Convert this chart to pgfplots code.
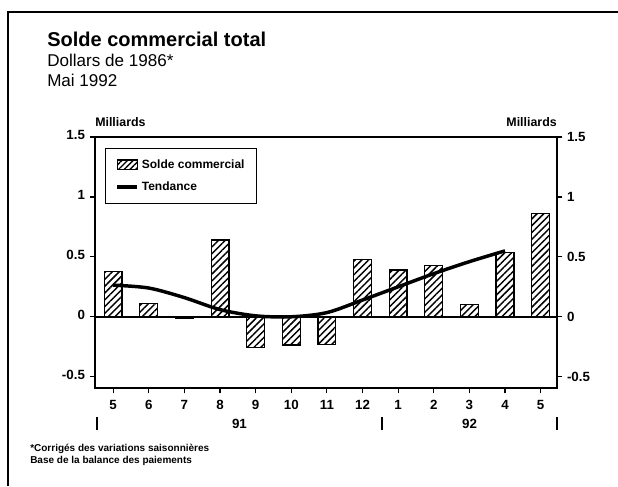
\documentclass[border=0pt]{standalone}
\usepackage{fontspec}
\setmainfont{Liberation Sans}
\usepackage{pgfplots}
\pgfplotsset{compat=1.18}
\usetikzlibrary{patterns,patterns.meta}
\begin{document}
\begin{tikzpicture}[x=0.75pt,y=0.75pt]
\useasboundingbox (0,0) rectangle (618,486);
\draw[line width=1.1pt] (8,0) -- (8,474) -- (618,474);
\node[anchor=base west, font=\bfseries\fontsize{15}{18}\selectfont, inner sep=0] at (47,439) {Solde commercial total};
\node[anchor=base west, font=\fontsize{12.8}{14}\selectfont, inner sep=0] at (47,419) {Dollars de 1986*};
\node[anchor=base west, font=\fontsize{12.8}{14}\selectfont, inner sep=0] at (47,399) {Mai 1992};
\node[anchor=base west, font=\bfseries\fontsize{9.3}{10}\selectfont, inner sep=0] at (95,359) {Milliards};
\node[anchor=base east, font=\bfseries\fontsize{9.3}{10}\selectfont, inner sep=0] at (557,359) {Milliards};
\begin{axis}[
  at={(71.25pt,73.5pt)}, anchor=south west, scale only axis,
  width=346.5pt, height=188.25pt,
  xmin=-0.51, xmax=12.46, ymin=-0.594, ymax=1.5,
  axis line style={line width=1.1pt},
  tick style={line width=0.9pt, black},
  tick align=outside, major tick length=4pt,
  xtick={0,...,12},
  xticklabels={5,6,7,8,9,10,11,12,1,2,3,4,5},
  xtick pos=left, ytick pos=left,
  ytick={-0.5,0,0.5,1,1.5},
  yticklabels={-0.5,0,0.5,1,1.5},
  ticklabel style={font=\bfseries\fontsize{10}{11}\selectfont},
  typeset ticklabels with strut,
  xticklabel style={yshift=-1pt},
  legend style={at={(0.022,0.956)}, anchor=north west, draw=black, line width=1pt,
    font=\bfseries\fontsize{9}{10}\selectfont, inner xsep=7pt, inner ysep=6pt,
    row sep=5pt, legend cell align=left},
  legend cell align=left,
]
\addplot[ybar, bar width=0.5, draw=black, line width=0.9pt,
  pattern={Lines[angle=45, distance=3.6pt, line width=1.1pt]},
  legend image code/.code={\draw[pattern={Lines[angle=45, distance=3pt, line width=1pt]}, draw=black, line width=0.9pt] (0pt,-3.5pt) rectangle (15pt,3.5pt);}]
coordinates {(0,0.375) (1,0.108) (2,-0.012) (3,0.64) (4,-0.258) (5,-0.236) (6,-0.228)
 (7,0.48) (8,0.39) (9,0.425) (10,0.10) (11,0.535) (12,0.865)};
\addlegendentry{Solde commercial}
\addplot[black, line width=2.6pt, smooth, no markers,
  legend image code/.code={\draw[black, line width=3pt] (0pt,0pt) -- (15pt,0pt);}]
coordinates {(0,0.264) (1,0.24) (2,0.16) (3,0.06) (4,0.008) (5,0.0) (6,0.035)
 (7,0.14) (8,0.25) (9,0.36) (10,0.46) (11,0.55)};
\addlegendentry{Tendance}
\draw[line width=1.1pt] (axis cs:-0.51,0) -- (axis cs:12.46,0);
\end{axis}
\begin{axis}[
  at={(71.25pt,73.5pt)}, anchor=south west, scale only axis,
  width=346.5pt, height=188.25pt,
  xmin=-0.51, xmax=12.46, ymin=-0.594, ymax=1.5,
  hide x axis, axis y line*=right,
  axis line style={line width=1.1pt},
  tick style={line width=0.9pt, black},
  tick align=outside, major tick length=4pt,
  ytick={-0.5,0,0.5,1,1.5},
  yticklabels={-0.5,0,0.5,1,1.5},
  ticklabel style={font=\bfseries\fontsize{10}{11}\selectfont},
]
\addplot[draw=none, forget plot] coordinates {(0,0)};
\end{axis}
\draw[line width=1pt] (97,69) -- (97,56);
\draw[line width=1pt] (382,69) -- (382,56);
\draw[line width=1pt] (557,69) -- (557,56);
\node[font=\bfseries\fontsize{10}{11}\selectfont] at (239.5,62) {91};
\node[font=\bfseries\fontsize{10}{11}\selectfont] at (469.5,62) {92};
\node[anchor=base west, font=\bfseries\fontsize{7.5}{8}\selectfont, inner sep=0] at (30,35) {*Corrigés des variations saisonnières};
\node[anchor=base west, font=\bfseries\fontsize{7.5}{8}\selectfont, inner sep=0] at (30,23) {Base de la balance des paiements};
\end{tikzpicture}
\end{document}
